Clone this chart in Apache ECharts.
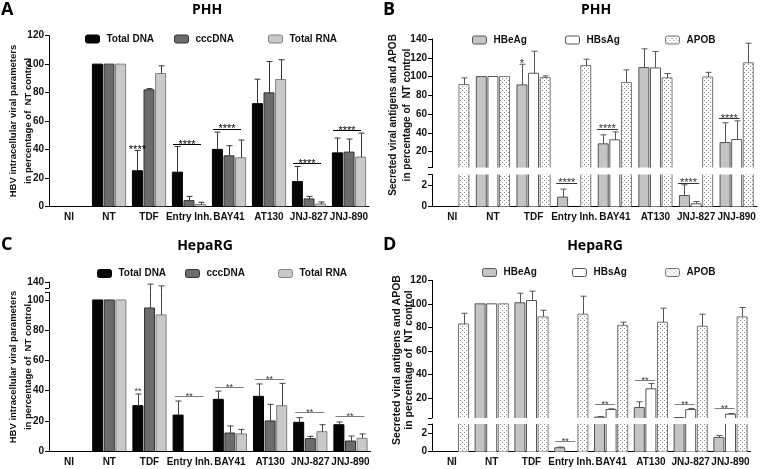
<!DOCTYPE html>
<html><head><meta charset="utf-8">
<script src="https://cdn.jsdelivr.net/npm/echarts@6/dist/echarts.min.js"></script>
<style>html,body{margin:0;padding:0;background:#fff}#c{width:760px;height:469px}</style>
</head><body><div id="c"></div>
<script>
// ---------------- DATA ----------------
const categories = ['NI', 'NT', 'TDF', 'Entry Inh.', 'BAY41', 'AT130', 'JNJ-827', 'JNJ-890'];

// Panel A: PHH, intracellular viral parameters (% of NT)
const A_totalDNA    = [0, 100, 25.0, 24.0, 40.0, 72.2, 17.4, 37.6];
const A_totalDNA_sd = [0, 0, 14.3, 18.1, 12.2, 17.2, 10.6, 10.4];
const A_cccDNA      = [0, 100, 81.9, 4.0, 35.5, 79.8, 5.2, 38.1];
const A_cccDNA_sd   = [0, 0, 0.9, 3.0, 7.1, 22.1, 1.8, 9.2];
const A_totalRNA    = [0, 100, 93.4, 1.2, 34.1, 89.2, 1.6, 34.6];
const A_totalRNA_sd = [0, 0, 5.4, 1.6, 12.5, 13.9, 1.4, 16.9];
const A_sigCat  = ['TDF', 'Entry Inh.', 'BAY41', 'JNJ-827', 'JNJ-890'];
const A_sigY    = [40, 43.8, 54.4, 30.4, 53.4];
const A_sigText = ['****', '****', '****', '****', '****'];
const A_sigLine = [false, true, true, true, true];
const A_yLabels = [0, 20, 40, 60, 80, 100, 120];

// Panel B: PHH, secreted antigens and APOB (% of NT)
const B_HBeAg    = [0, 100, 91.1, 0.88, 28.3, 109.6, 1.03, 29.7];
const B_HBeAg_sd = [0, 0, 22.0, 0.75, 9.6, 19.9, 1.0, 21.0];
const B_HBsAg    = [0, 100, 103.5, 0, 32.6, 109.2, 0.25, 32.9];
const B_HBsAg_sd = [0, 0, 23.5, 0, 8.5, 17.4, 0.22, 19.9];
const B_APOB     = [91.5, 100, 98.9, 111.7, 93.6, 98.6, 99.5, 114.6];
const B_APOB_sd  = [7.1, 0, 1.8, 6.8, 13.5, 4.6, 5.0, 20.9];
const B_sigCat  = ['TDF', 'Entry Inh.', 'BAY41', 'JNJ-827', 'JNJ-890'];
const B_sigY    = [114, 2.25, 44.3, 2.25, 55.6];
const B_sigText = ['*', '****', '****', '****', '****'];
const B_sigLine = [false, true, true, true, true];
const B_yLabelsUpper = [20, 40, 60, 80, 100, 120, 140];
const B_yLabelsLower = [0, 2];

// Panel C: HepaRG, intracellular viral parameters (% of NT)
const C_totalDNA    = [0, 100, 30.0, 23.8, 34.2, 36.2, 19.0, 17.4];
const C_totalDNA_sd = [0, 0, 7.7, 9.3, 5.5, 8.2, 3.1, 1.8];
const C_cccDNA      = [0, 100, 94.7, 0, 11.9, 19.9, 8.2, 6.6];
const C_cccDNA_sd   = [0, 0, 38.3, 0, 4.7, 11.0, 1.5, 3.3];
const C_totalRNA    = [0, 100, 90.1, 0, 11.3, 30.0, 12.8, 8.4];
const C_totalRNA_sd = [0, 0, 37.0, 0, 3.0, 14.8, 4.6, 2.9];
const C_sigCat  = ['TDF', 'Entry Inh.', 'BAY41', 'AT130', 'JNJ-827', 'JNJ-890'];
const C_sigY    = [40, 36.4, 42.2, 47.7, 26.0, 23.2];
const C_sigText = ['**', '**', '**', '**', '**', '**'];
const C_sigLine = [false, true, true, true, true, true];
const C_yLabelsUpper = [140];
const C_yLabelsLower = [0, 20, 40, 60, 80, 100];

// Panel D: HepaRG, secreted antigens and APOB (% of NT)
const D_HBeAg    = [0, 100, 100.9, 0.43, 3.8, 11.9, 3.4, 1.54];
const D_HBeAg_sd = [0, 0, 8.1, 0.07, 0.5, 4.9, 0, 0.21];
const D_HBsAg    = [0, 100, 102.8, 0, 10.2, 27.8, 10.2, 6.25];
const D_HBsAg_sd = [0, 0, 8.0, 0, 0.6, 4.6, 0.8, 0.55];
const D_APOB     = [83.0, 100, 88.9, 91.2, 81.8, 84.4, 81.0, 88.9];
const D_APOB_sd  = [9.0, 0, 5.7, 15.3, 2.6, 11.9, 10.2, 8.0];
const D_sigCat  = ['Entry Inh.', 'BAY41', 'AT130', 'JNJ-827', 'JNJ-890'];
const D_sigY    = [1.15, 14.5, 35.5, 15.3, 11.6];
const D_sigText = ['**', '**', '**', '**', '**'];
const D_sigLine = [true, true, true, true, true];
const D_yLabelsUpper = [20, 40, 60, 80, 100, 120];
const D_yLabelsLower = [0, 2];

// ---------------- STYLE / LAYOUT ----------------
const FONT = '"Liberation Sans", Arial, sans-serif';
const TFONT = '"Open Sans", "Liberation Sans", sans-serif';
const BAR_W = 10, BAR_GAP = 0.16, PITCH = BAR_W * (1 + BAR_GAP);

const pc = document.createElement('canvas'); pc.width = 4; pc.height = 4;
const g2 = pc.getContext('2d');
g2.fillStyle = '#ffffff'; g2.fillRect(0, 0, 4, 4);
g2.fillStyle = '#8a8a8a'; g2.fillRect(0, 0, 1, 1); g2.fillRect(2, 2, 1, 1);
const dotPattern = { image: pc, repeat: 'repeat' };

const stDNA = { fill: '#050505', border: '#000' };
const stCCC = { fill: '#6c6c6c', border: '#333' };
const stRNA = { fill: '#c9c9c9', border: '#808080' };
const stE   = { fill: '#c4c4c4', border: '#555' };
const stS   = { fill: '#ffffff', border: '#555' };
const stAP  = { fill: dotPattern, border: '#777' };

const grids = [], xAxes = [], yAxes = [], series = [], legends = [], graphics = [];

function outlineRenderer(lo, hi, colors) {
  return function (params, api) {
    const c = api.value(0), k = api.value(1), v = api.value(2);
    const cx = api.coord([c, lo])[0] + (k - 1) * PITCH;
    const xl = cx - BAR_W / 2, xr = cx + BAR_W / 2;
    const yb = api.coord([c, lo])[1];
    const yt = api.coord([c, Math.min(v, hi)])[1];
    const st = { stroke: colors[k], lineWidth: 1, fill: null };
    if (v <= hi) {
      return { type: 'polyline', shape: { points: [[xl, yb], [xl, yt], [xr, yt], [xr, yb]] }, style: st };
    }
    return { type: 'group', children: [
      { type: 'line', shape: { x1: xl, y1: yb, x2: xl, y2: yt }, style: st },
      { type: 'line', shape: { x1: xr, y1: yb, x2: xr, y2: yt }, style: st }
    ] };
  };
}

function errRenderer(lo, hi, gapBelow, color) {
  return function (params, api) {
    const c = api.value(0), k = api.value(1), m = api.value(2), t = api.value(3);
    if (t < lo || m > hi) return null;
    const a = Math.max(m, lo), b = Math.min(t, hi);
    const x = Math.round(api.coord([c, lo])[0] + (k - 1) * PITCH) + 0.5;
    let ya = api.coord([c, a])[1];
    const yb = api.coord([c, b])[1];
    if (m < lo && gapBelow) ya += gapBelow;
    const ch = [{ type: 'line', shape: { x1: x, y1: ya, x2: x, y2: yb }, style: { stroke: color, lineWidth: 1 } }];
    if (t <= hi) ch.push({ type: 'line', shape: { x1: x - 3, y1: yb, x2: x + 3, y2: yb }, style: { stroke: color, lineWidth: 1 } });
    return { type: 'group', children: ch };
  };
}

function sigRenderer(items, sp) {
  return function (params, api) {
    const it = items[params.dataIndex];
    const p = api.coord([api.value(0), api.value(1)]);
    const ch = [];
    let tx;
    if (it.line) {
      const y = Math.round(p[1]) + 0.5;
      ch.push({ type: 'line', shape: { x1: p[0] + sp.l, y1: y, x2: p[0] + sp.r, y2: y }, style: { stroke: sp.lineColor, lineWidth: 1 } });
      tx = p[0] + (sp.l + sp.r) / 2;
    } else {
      tx = p[0] - PITCH;
    }
    ch.push({ type: 'text', x: tx, y: p[1] + 0.5, style: { text: it.text, font: sp.font, fill: sp.textColor, align: 'center', verticalAlign: 'middle' } });
    return { type: 'group', children: ch };
  };
}

function buildPanel(p) {
  p.segments.forEach(seg => {
    const gi = grids.length;
    grids.push({ left: p.left, width: p.width, top: seg.top, height: seg.height });
    xAxes.push({
      type: 'category', gridIndex: gi, data: categories, show: !!seg.showX,
      axisLine: { lineStyle: { color: '#000', width: 1 } }, axisTick: { show: false },
      axisLabel: { interval: 0, fontFamily: FONT, fontWeight: 'bold', fontSize: 10, color: '#111', margin: 6 }
    });
    yAxes.push({
      type: 'value', gridIndex: gi, min: seg.min, max: seg.max, splitLine: { show: false },
      axisLine: { show: true, lineStyle: { color: '#000', width: 1 } },
      axisTick: { show: true, length: 4, customValues: seg.ticks, lineStyle: { color: '#000' } },
      axisLabel: { customValues: seg.labels, fontFamily: FONT, fontWeight: 'bold', fontSize: 10, color: '#111', margin: 5 }
    });
    p.series.forEach(s => {
      series.push({
        type: 'bar', name: s.name, xAxisIndex: gi, yAxisIndex: gi, barWidth: BAR_W, barGap: (BAR_GAP * 100) + '%',
        data: s.data.map(v => (v < seg.min ? null : v)), itemStyle: { color: s.style.fill, borderWidth: 0 }, clip: true, silent: true
      });
    });
    const olData = [];
    p.series.forEach((s, k) => s.data.forEach((v, i) => { if (v > seg.min) olData.push([i, k, v]); }));
    series.push({ type: 'custom', name: 'outline' + gi, xAxisIndex: gi, yAxisIndex: gi, data: olData, encode: { x: 0, y: 2 },
      renderItem: outlineRenderer(seg.min, seg.max, p.series.map(s => s.style.border)), z: 4, silent: true });
    const errData = [];
    p.series.forEach((s, k) => s.data.forEach((v, i) => { if (s.sd[i] > 0) errData.push([i, k, v, v + s.sd[i]]); }));
    series.push({ type: 'custom', name: 'err' + gi, xAxisIndex: gi, yAxisIndex: gi, data: errData, encode: { x: 0, y: 2 },
      renderItem: errRenderer(seg.min, seg.max, seg.gapBelow || 0, p.errColor), z: 5, silent: true });
    const items = [];
    p.sig.cat.forEach((c, i) => {
      const y = p.sig.y[i];
      if (y >= seg.min && y <= seg.max) items.push({ value: [categories.indexOf(c), y], text: p.sig.text[i], line: p.sig.line[i] });
    });
    if (items.length) series.push({ type: 'custom', name: 'sig' + gi, xAxisIndex: gi, yAxisIndex: gi, data: items.map(d => d.value),
      encode: { x: 0, y: 1 }, renderItem: sigRenderer(items, p.sigStyle), z: 6, silent: true });
  });
  p.legend.forEach(L => {
    const s = p.series.find(q => q.name === L.name);
    legends.push({
      data: [L.name], left: L.left, top: L.top, padding: 0, itemWidth: 14, itemHeight: 8, selectedMode: false,
      itemStyle: { borderWidth: 1, borderColor: s.style.border },
      textStyle: { fontFamily: FONT, fontSize: 10, fontWeight: 'bold', color: '#111', padding: [0, 0, 0, 2] }
    });
  });
  graphics.push({ type: 'text', x: p.letter.x, y: p.letter.y, style: { text: p.letter.text, font: 'bold 18px ' + TFONT, fill: '#000', align: 'left', verticalAlign: 'middle', textAlign: 'left', textVerticalAlign: 'middle' } });
  graphics.push({ type: 'text', x: p.title.x, y: p.title.y, style: { text: p.title.text, font: 'bold 14px ' + TFONT, fill: '#000', align: 'center', verticalAlign: 'middle', textAlign: 'center', textVerticalAlign: 'middle' } });
  graphics.push({ type: 'text', x: p.yName.x, y: p.yName.y, rotation: Math.PI / 2,
    style: { text: p.yName.text, font: 'bold ' + p.yName.size + 'px ' + FONT, fill: '#111', lineHeight: p.yName.lh, align: 'center', verticalAlign: 'middle', textAlign: 'center', textVerticalAlign: 'middle' } });
}

// Panel A
buildPanel({
  left: 49, width: 320,
  segments: [{ top: 35.7, height: 170.6, min: 0, max: 120, labels: A_yLabels, ticks: A_yLabels, showX: true }],
  series: [
    { name: 'Total DNA', data: A_totalDNA, sd: A_totalDNA_sd, style: stDNA },
    { name: 'cccDNA', data: A_cccDNA, sd: A_cccDNA_sd, style: stCCC },
    { name: 'Total RNA', data: A_totalRNA, sd: A_totalRNA_sd, style: stRNA }
  ],
  errColor: '#333',
  sig: { cat: A_sigCat, y: A_sigY, text: A_sigText, line: A_sigLine },
  sigStyle: { l: -16, r: 12, lineColor: '#000', textColor: '#000', font: '11px ' + FONT },
  legend: [{ name: 'Total DNA', left: 85, top: 34 }, { name: 'cccDNA', left: 174, top: 34 }, { name: 'Total RNA', left: 268, top: 34 }],
  letter: { text: 'A', x: 1, y: 10 }, title: { text: 'PHH', x: 207, y: 10.5 },
  yName: { text: 'HBV intracellular viral parameters\nin percentage of  NT control', x: 21, y: 121, size: 9.5, lh: 15 }
});

// Panel B
buildPanel({
  left: 432, width: 325,
  segments: [
    { top: 39, height: 128.6, min: 3, max: 140, labels: B_yLabelsUpper, ticks: [3].concat(B_yLabelsUpper) },
    { top: 174.5, height: 32, min: 0, max: 3, labels: B_yLabelsLower, ticks: B_yLabelsLower.concat([3]), showX: true }
  ],
  series: [
    { name: 'HBeAg', data: B_HBeAg, sd: B_HBeAg_sd, style: stE },
    { name: 'HBsAg', data: B_HBsAg, sd: B_HBsAg_sd, style: stS },
    { name: 'APOB', data: B_APOB, sd: B_APOB_sd, style: stAP }
  ],
  errColor: '#555',
  sig: { cat: B_sigCat, y: B_sigY, text: B_sigText, line: B_sigLine },
  sigStyle: { l: -18, r: 3, lineColor: '#333', textColor: '#333', font: '11px ' + FONT },
  legend: [{ name: 'HBeAg', left: 472, top: 35 }, { name: 'HBsAg', left: 565, top: 35 }, { name: 'APOB', left: 665, top: 35 }],
  letter: { text: 'B', x: 383, y: 10 }, title: { text: 'PHH', x: 596, y: 10.5 },
  yName: { text: 'Secreted viral antigens and APOB\nin percentage of  NT control', x: 400, y: 115, size: 10, lh: 13.5 }
});

// Panel C
buildPanel({
  left: 49, width: 321.6,
  segments: [
    { top: 282, height: 6, min: 120, max: 140, labels: C_yLabelsUpper, ticks: [120, 140], gapBelow: 4.4 },
    { top: 292.4, height: 158.6, min: 0, max: 105, labels: C_yLabelsLower, ticks: C_yLabelsLower.concat([105]), showX: true }
  ],
  series: [
    { name: 'Total DNA', data: C_totalDNA, sd: C_totalDNA_sd, style: stDNA },
    { name: 'cccDNA', data: C_cccDNA, sd: C_cccDNA_sd, style: stCCC },
    { name: 'Total RNA', data: C_totalRNA, sd: C_totalRNA_sd, style: stRNA }
  ],
  errColor: '#444',
  sig: { cat: C_sigCat, y: C_sigY, text: C_sigText, line: C_sigLine },
  sigStyle: { l: -15, r: 14, lineColor: '#808080', textColor: '#333', font: '9px ' + FONT },
  legend: [{ name: 'Total DNA', left: 97, top: 268.5 }, { name: 'cccDNA', left: 185, top: 268.5 }, { name: 'Total RNA', left: 278, top: 268.5 }],
  letter: { text: 'C', x: 1, y: 244.5 }, title: { text: 'HepaRG', x: 205, y: 246 },
  yName: { text: 'HBV intracellular viral parameters\nin percentage of  NT control', x: 21, y: 367, size: 9.5, lh: 15 }
});

// Panel D
buildPanel({
  left: 432, width: 318.4,
  segments: [
    { top: 280.3, height: 137.7, min: 3, max: 120, labels: D_yLabelsUpper, ticks: [3].concat(D_yLabelsUpper) },
    { top: 424, height: 27.7, min: 0, max: 3, labels: D_yLabelsLower, ticks: D_yLabelsLower.concat([3]), showX: true }
  ],
  series: [
    { name: 'HBeAg', data: D_HBeAg, sd: D_HBeAg_sd, style: stE },
    { name: 'HBsAg', data: D_HBsAg, sd: D_HBsAg_sd, style: stS },
    { name: 'APOB', data: D_APOB, sd: D_APOB_sd, style: stAP }
  ],
  errColor: '#555',
  sig: { cat: D_sigCat, y: D_sigY, text: D_sigText, line: D_sigLine },
  sigStyle: { l: -16, r: 4, lineColor: '#808080', textColor: '#333', font: '9px ' + FONT },
  legend: [{ name: 'HBeAg', left: 482, top: 267.5 }, { name: 'HBsAg', left: 572, top: 267.5 }, { name: 'APOB', left: 665, top: 267.5 }],
  letter: { text: 'D', x: 383, y: 244.5 }, title: { text: 'HepaRG', x: 595, y: 246 },
  yName: { text: 'Secreted viral antigens and APOB\nin percentage of  NT control', x: 403, y: 360, size: 10.5, lh: 12.5 }
});

const chart = echarts.init(document.getElementById('c'), null, { renderer: 'canvas' });
chart.setOption({
  backgroundColor: '#fff',
  animation: false,
  grid: grids, xAxis: xAxes, yAxis: yAxes, series: series, legend: legends,
  graphic: { elements: graphics }
});
</script>
</body></html>
